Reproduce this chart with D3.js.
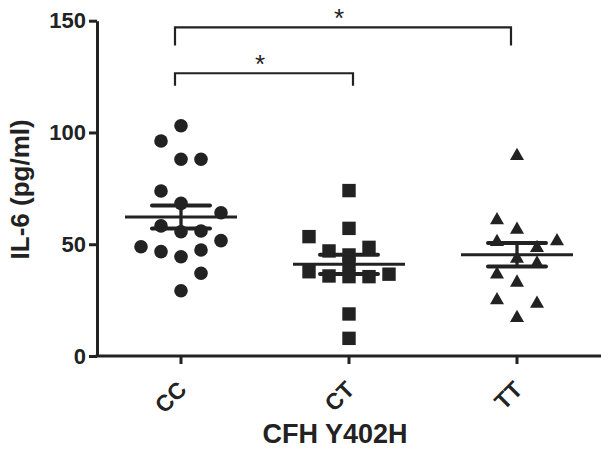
<!DOCTYPE html>
<html><head><meta charset="utf-8">
<script src="https://cdn.jsdelivr.net/npm/d3@7"></script>
<style>body{margin:0;background:#fff}svg{display:block}text{font-family:"Liberation Sans",Arial,sans-serif;font-weight:bold;fill:#222}</style>
</head><body>
<script>
const categories = ["CC", "CT", "TT"];
const ccValues = [103.0, 96.2, 88.0, 88.0, 73.8, 68.3, 64.1, 58.2, 55.6, 55.9, 48.9, 51.6, 46.7, 44.4, 47.4, 37.0, 29.2];
const ccSlots  = [0, -1, 0, 1, -1, 0, 2, -1, 0, 1, -2, 2, -1, 0, 1, 1, 0];
const ctValues = [74.0, 57.1, 53.4, 47.0, 45.2, 48.6, 37.7, 35.8, 35.5, 35.5, 36.6, 18.8, 7.9, 41.0];
const ctSlots  = [0, 0, -2, -1, 0, 1, -2, -1, 0, 1, 2, 0, 0, 0];
const ttValues = [90.4, 61.6, 57.4, 51.9, 49.2, 52.2, 44.4, 42.2, 37.3, 33.7, 25.8, 24.3, 17.9];
const ttSlots  = [0, -1, 0, -1, 1, 2, 0, 1, -1, 0, -1, 1, 0];
const yTicks = [0, 50, 100, 150];
const comparisons = [{from: "CC", to: "CT", level: 126.5, label: "*"}, {from: "CC", to: "TT", level: 147, label: "*"}];
const yLabel = "IL-6 (pg/ml)";
const xLabel = "CFH Y402H";

const W = 610, H = 457;
const ink = "#222";
const svg = d3.select("body").append("svg").attr("width", W).attr("height", H);

const x = d3.scaleBand().domain(categories).range([97, 601]);
const xc = c => x(c) + x.bandwidth() / 2;
const y = d3.scaleLinear().domain([0, 150]).range([356, 20.7]);
const slot = d3.scaleLinear().domain([-1, 1]).range([-20, 20]);

const groups = [
  {cat: "CC", values: ccValues, slots: ccSlots, shape: "circle"},
  {cat: "CT", values: ctValues, slots: ctSlots, shape: "square"},
  {cat: "TT", values: ttValues, slots: ttSlots, shape: "triangle"}
];

// axes
const yAxis = svg.append("g").attr("transform", "translate(97,0)")
  .call(d3.axisLeft(y).tickValues(yTicks).tickSize(8).tickPadding(3).tickSizeOuter(0));
yAxis.select(".domain").attr("stroke", ink).attr("stroke-width", 3);
yAxis.selectAll(".tick line").attr("stroke", ink).attr("stroke-width", 3);
yAxis.selectAll(".tick text").style("font-size", "22px").attr("fill", ink).attr("font-family", null);

const xAxis = svg.append("g").attr("transform", "translate(0,356)")
  .call(d3.axisBottom(x).tickSize(8).tickSizeOuter(0));
xAxis.select(".domain").attr("stroke", ink).attr("stroke-width", 3).attr("d", "M95.5,0H601");
xAxis.selectAll(".tick line").attr("stroke", ink).attr("stroke-width", 3);
xAxis.selectAll(".tick text").style("font-size", "23px").attr("fill", ink).attr("font-family", null)
  .attr("text-anchor", "end").attr("dy", 0).attr("y", 0)
  .attr("transform", "translate(7,35) rotate(-45)");

svg.append("text").attr("x", xc("CT") - 14).attr("y", 443).attr("text-anchor", "middle")
  .style("font-size", "27px").text(xLabel);
svg.append("text").attr("transform", `translate(29,${y(75) + 1}) rotate(-90)`).attr("text-anchor", "middle")
  .style("font-size", "26px").text(yLabel);

// points
groups.forEach(g => {
  const cx = xc(g.cat);
  g.values.forEach((v, i) => {
    const px = cx + slot(g.slots[i]), py = y(v);
    if (g.shape === "circle") {
      svg.append("circle").attr("cx", px).attr("cy", py).attr("r", 6.8).attr("fill", ink);
    } else if (g.shape === "square") {
      svg.append("rect").attr("x", px - 6.7).attr("y", py - 6.7).attr("width", 13.4).attr("height", 13.4).attr("fill", ink);
    } else {
      svg.append("path").attr("d", `M${px},${py - 6.3}L${px + 7},${py + 6}L${px - 7},${py + 6}Z`).attr("fill", ink);
    }
  });
  // mean and SEM
  const m = d3.mean(g.values), sem = d3.deviation(g.values) / Math.sqrt(g.values.length);
  svg.append("line").attr("x1", cx - 56).attr("x2", cx + 56).attr("y1", y(m)).attr("y2", y(m))
    .attr("stroke", ink).attr("stroke-width", 3);
  svg.append("line").attr("x1", cx).attr("x2", cx).attr("y1", y(m + sem)).attr("y2", y(m - sem))
    .attr("stroke", ink).attr("stroke-width", 3.3);
  [m + sem, m - sem].forEach(b => {
    svg.append("line").attr("x1", cx - 29).attr("x2", cx + 29).attr("y1", y(b)).attr("y2", y(b))
      .attr("stroke", ink).attr("stroke-width", 4).attr("stroke-linecap", "round");
  });
});

// significance brackets
comparisons.forEach((c, i) => {
  const x1 = xc(c.from) - 6, x2 = xc(c.to) + (i === 0 ? 4 : -6);
  const yl = y(c.level), yb = yl + (i === 0 ? 12.5 : 18);
  svg.append("path").attr("d", `M${x1},${yb}V${yl}H${x2}V${yb}`).attr("fill", "none")
    .attr("stroke", ink).attr("stroke-width", 2.2);
  svg.append("text").attr("x", (x1 + x2) / 2 - 4).attr("y", yl - 0.5).attr("text-anchor", "middle")
    .style("font-size", "26px").style("font-weight", "normal").text(c.label);
});
</script>
</body></html>
